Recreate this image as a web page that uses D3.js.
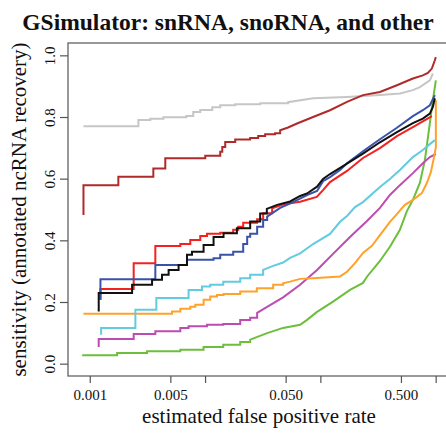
<!DOCTYPE html>
<html>
<head>
<meta charset="utf-8">
<script src="https://cdn.jsdelivr.net/npm/d3@7"></script>
<style>
  body { margin: 0; background: #fff; }
  svg { display: block; }
  text { font-family: "Liberation Serif", "Times New Roman", serif; fill: #111; }
</style>
</head>
<body>
<svg id="vis" width="446" height="442"></svg>
<script>
// tick values and labels (R drops the labels that would overlap)
const xTicks = [0.001, 0.005, 0.01, 0.05, 0.1, 0.5, 1];
const xTickLabels = ['0.001', '0.005', '', '0.050', '', '0.500', ''];
const yTicks = [0, 0.2, 0.4, 0.6, 0.8, 1.0];
const yTickLabels = ['0.0', '0.2', '0.4', '0.6', '0.8', '1.0'];

// curves: [estimated false positive rate, sensitivity]
const grayCurve = [[0.000882,0.770],[0.00264,0.790],[0.00335,0.794],[0.00435,0.799],[0.00687,0.803],[0.0079,0.816],[0.00909,0.823],[0.01155,0.832],[0.01354,0.838],[0.01826,0.841],[0.0301,0.845],[0.0525,0.848],[0.0865,0.861],[0.1703,0.865],[0.329,0.871],[0.490,0.876],[0.635,0.887],[0.730,0.897],[0.891,0.919],[0.946,0.941]];
const brownCurve = [[0.000882,0.482],[0.000882,0.579],[0.00177,0.606],[0.00356,0.633],[0.00452,0.666],[0.01004,0.674],[0.01354,0.687],[0.0141,0.703],[0.01496,0.719],[0.01826,0.727],[0.0246,0.732],[0.0289,0.738],[0.0332,0.744],[0.0405,0.747],[0.0448,0.757],[0.0525,0.766],[0.0628,0.779],[0.0865,0.800],[0.1213,0.822],[0.1703,0.849],[0.2343,0.871],[0.3287,0.881],[0.4613,0.903],[0.6348,0.925],[0.7745,0.935],[0.8561,0.943],[0.9271,0.957],[0.984,0.984],[1.004,0.994]];
const redCurve = [[0.001238,0.207],[0.001238,0.242],[0.002404,0.326],[0.003705,0.382],[0.0061,0.388],[0.007445,0.401],[0.00909,0.414],[0.01039,0.421],[0.01354,0.425],[0.01754,0.434],[0.01939,0.444],[0.02142,0.457],[0.0283,0.468],[0.0319,0.488],[0.03818,0.504],[0.04661,0.515],[0.05466,0.520],[0.06673,0.525],[0.0931,0.541],[0.1055,0.563],[0.1213,0.589],[0.1703,0.625],[0.2343,0.667],[0.3287,0.699],[0.4613,0.738],[0.6348,0.767],[0.7745,0.786],[0.9271,0.803]];
const blueCurve = [[0.001238,0.207],[0.001238,0.274],[0.003705,0.320],[0.00697,0.337],[0.01185,0.342],[0.01354,0.353],[0.01754,0.363],[0.02142,0.388],[0.02319,0.412],[0.02463,0.421],[0.0283,0.444],[0.0319,0.466],[0.03455,0.477],[0.04479,0.505],[0.05801,0.524],[0.07669,0.547],[0.09363,0.560],[0.1055,0.592],[0.1213,0.605],[0.1481,0.628],[0.1703,0.650],[0.2343,0.689],[0.3287,0.728],[0.4613,0.765],[0.6348,0.803],[0.7745,0.822],[0.8906,0.838],[0.984,0.871]];
const blackCurve = [[0.001196,0.169],[0.001196,0.229],[0.002329,0.256],[0.00347,0.272],[0.004233,0.288],[0.004831,0.304],[0.005896,0.320],[0.00697,0.353],[0.0077,0.363],[0.00971,0.385],[0.01185,0.411],[0.01446,0.423],[0.01889,0.439],[0.02463,0.461],[0.03006,0.487],[0.03434,0.502],[0.04218,0.515],[0.05466,0.526],[0.06673,0.544],[0.07669,0.552],[0.09363,0.574],[0.1055,0.599],[0.1213,0.615],[0.1703,0.649],[0.2343,0.681],[0.3287,0.718],[0.4613,0.751],[0.6348,0.780],[0.7745,0.795],[0.8906,0.811],[0.9458,0.833],[0.984,0.861]];
const cyanCurve = [[0.001255,0.094],[0.001255,0.116],[0.002487,0.175],[0.00378,0.213],[0.007196,0.239],[0.0094,0.250],[0.01109,0.256],[0.01438,0.266],[0.02018,0.277],[0.02463,0.288],[0.0319,0.304],[0.03896,0.317],[0.04753,0.328],[0.05466,0.343],[0.06673,0.358],[0.0865,0.388],[0.1213,0.421],[0.1481,0.460],[0.1703,0.479],[0.1998,0.508],[0.2343,0.524],[0.3287,0.573],[0.4013,0.599],[0.4898,0.628],[0.6348,0.670],[0.7745,0.693],[0.8906,0.712],[0.984,0.725]];
const orangeCurve = [[0.000882,0.162],[0.005169,0.169],[0.0061,0.178],[0.007445,0.185],[0.00823,0.191],[0.00971,0.207],[0.01109,0.218],[0.01268,0.223],[0.01446,0.226],[0.02018,0.234],[0.02813,0.245],[0.03896,0.256],[0.04753,0.261],[0.05466,0.266],[0.06673,0.275],[0.0865,0.277],[0.1481,0.283],[0.1703,0.298],[0.1998,0.326],[0.2343,0.359],[0.2803,0.382],[0.3287,0.417],[0.4013,0.460],[0.4613,0.485],[0.5412,0.515],[0.6348,0.531],[0.7592,0.553],[0.839,0.586],[0.9087,0.621],[0.9647,0.667],[1.004,0.702],[1.004,0.854]];
const magentaCurve = [[0.001196,0.054],[0.001196,0.080],[0.002404,0.096],[0.003705,0.105],[0.0061,0.116],[0.007196,0.121],[0.01039,0.126],[0.01438,0.129],[0.02018,0.142],[0.02463,0.149],[0.0283,0.165],[0.03455,0.184],[0.04753,0.215],[0.06673,0.256],[0.09363,0.304],[0.1288,0.356],[0.1808,0.411],[0.2537,0.463],[0.3287,0.505],[0.4013,0.547],[0.4898,0.579],[0.6348,0.618],[0.7745,0.650],[0.8906,0.670],[1.004,0.680]];
const greenCurve = [[0.000859,0.027],[0.001727,0.035],[0.003141,0.040],[0.0061,0.045],[0.00971,0.054],[0.01438,0.061],[0.02018,0.070],[0.02463,0.078],[0.03455,0.099],[0.04753,0.116],[0.06673,0.126],[0.07669,0.142],[0.09363,0.168],[0.1288,0.201],[0.1808,0.239],[0.2343,0.262],[0.2537,0.282],[0.3287,0.333],[0.4013,0.379],[0.4898,0.434],[0.5629,0.495],[0.6348,0.531],[0.7297,0.586],[0.8062,0.660],[0.8906,0.780],[0.9458,0.854],[1.004,0.919]];

// stepUntil: below this rate the curve is drawn as clear steps, above it the
// steps are tiny and are drawn as a jagged line
const curves = [
  { data: grayCurve, color: '#c6c6c6', stepUntil: 0.06 },
  { data: brownCurve, color: '#b02a2a', stepUntil: 0.05 },
  { data: greenCurve, color: '#6cbf3c', stepUntil: 0.03 },
  { data: magentaCurve, color: '#bd4cb0', stepUntil: 0.03 },
  { data: orangeCurve, color: '#ffa22a', stepUntil: 0.05 },
  { data: cyanCurve, color: '#62cbe0', stepUntil: 0.035 },
  { data: redCurve, color: '#f52020', stepUntil: 0.04 },
  { data: blueCurve, color: '#3a53a8', stepUntil: 0.036 },
  { data: blackCurve, color: '#111111', stepUntil: 0.04 }
];

// add the step corners for the sparse part of each curve
function withCorners(c) {
  const out = [];
  c.data.forEach((d, i) => {
    if (i > 0 && d[0] <= c.stepUntil) out.push([d[0], c.data[i - 1][1]]);
    out.push(d);
  });
  return out;
}

const vis = d3.select('#vis');
const plot = { left: 68, right: 450, top: 43, bottom: 376 };

// R style 4% padding on the log axis
const allX = curves.flatMap(c => c.data.map(d => d[0]));
const lo = Math.log10(d3.min(allX)), hi = Math.log10(d3.max(allX));
const pad = (hi - lo) * 0.04;
const x = d3.scaleLog()
  .domain([Math.pow(10, lo - pad), Math.pow(10, hi + pad)])
  .range([plot.left, plot.right]);
const y = d3.scaleLinear()
  .domain([-0.04, 1.04])
  .range([plot.bottom, plot.top]);

vis.append('defs').append('clipPath').attr('id', 'clip')
  .append('rect')
    .attr('x', plot.left).attr('y', plot.top)
    .attr('width', plot.right - plot.left).attr('height', plot.bottom - plot.top);

const line = d3.line()
  .x(d => x(d[0]))
  .y(d => y(d[1]));

vis.append('g')
    .attr('clip-path', 'url(#clip)')
  .selectAll('path')
  .data(curves)
  .enter()
    .append('path')
    .attr('d', d => line(withCorners(d)))
    .attr('fill', 'none')
    .attr('stroke', d => d.color)
    .attr('stroke-width', 2)
    .attr('stroke-linejoin', 'miter');

// box
vis.append('rect')
  .attr('x', plot.left).attr('y', plot.top)
  .attr('width', plot.right - plot.left).attr('height', plot.bottom - plot.top)
  .attr('fill', 'none')
  .attr('stroke', '#555')
  .attr('stroke-width', 1.2);

// x axis
const xAxis = vis.append('g')
  .attr('transform', 'translate(0,' + plot.bottom + ')')
  .call(d3.axisBottom(x).tickValues(xTicks).tickSize(7).tickPadding(6)
    .tickFormat((d, i) => xTickLabels[i]));
xAxis.select('.domain').remove();
xAxis.selectAll('line').attr('stroke', '#555').attr('stroke-width', 1.2);
xAxis.selectAll('text')
  .attr('font-size', 15)
  .attr('font-family', '"Liberation Serif", serif')
  .attr('fill', '#111');

// y axis
const yAxis = vis.append('g')
  .attr('transform', 'translate(' + plot.left + ',0)')
  .call(d3.axisLeft(y).tickValues(yTicks).tickSize(8)
    .tickFormat((d, i) => yTickLabels[i]));
yAxis.select('.domain').remove();
yAxis.selectAll('line').attr('stroke', '#555').attr('stroke-width', 1.2);
yAxis.selectAll('text')
  .attr('font-size', 15)
  .attr('font-family', '"Liberation Serif", serif')
  .attr('fill', '#111')
  .attr('text-anchor', 'middle')
  .attr('x', null)
  .attr('dy', null)
  .attr('transform', 'translate(-13,0) rotate(-90)');

// titles
vis.append('text')
  .attr('x', 228).attr('y', 30)
  .attr('text-anchor', 'middle')
  .attr('font-size', 23.5)
  .attr('font-weight', 'bold')
  .text('GSimulator: snRNA, snoRNA, and other');

vis.append('text')
  .attr('x', (plot.left + plot.right) / 2).attr('y', 423)
  .attr('text-anchor', 'middle')
  .attr('font-size', 21)
  .text('estimated false positive rate');

vis.append('text')
  .attr('transform', 'translate(26,' + (plot.top + plot.bottom) / 2 + ') rotate(-90)')
  .attr('text-anchor', 'middle')
  .attr('font-size', 21)
  .text('sensitivity (annotated ncRNA recovery)');
</script>
</body>
</html>
